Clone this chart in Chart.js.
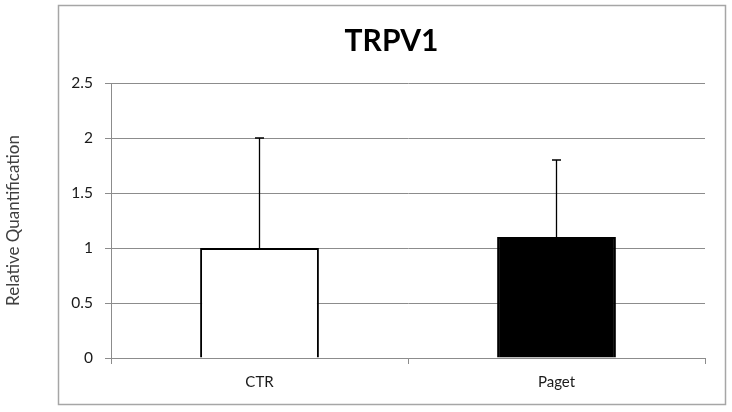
<!DOCTYPE html>
<html>
<head>
<meta charset="utf-8">
<script src="https://cdn.jsdelivr.net/npm/chart.js@4.4.1/dist/chart.umd.min.js"></script>
<style>
  html, body { margin: 0; padding: 0; background: #fff; }
  #wrap { width: 732px; height: 412px; position: relative; }
</style>
</head>
<body>
<div id="wrap"><canvas id="c" width="732" height="412"></canvas></div>
<script>
const categories = ["CTR", "Paget"];
const values = [1.0, 1.1];
const errors = [1.0, 0.7];
const yTicks = [0, 0.5, 1, 1.5, 2, 2.5];
const titleText = "TRPV1";
const yTitle = "Relative Quantification";

const gridColor = "#8c8c8c";
const FONT = "Lato, 'Open Sans', sans-serif";

const boxPlugin = {
  id: 'box',
  beforeDraw(chart) {
    const ctx = chart.ctx;
    ctx.save();
    ctx.fillStyle = '#fff';
    ctx.fillRect(0, 0, chart.width, chart.height);
    ctx.strokeStyle = '#a6a6a6';
    ctx.lineWidth = 1.5;
    ctx.strokeRect(58.5, 5.5, 667, 399);
    ctx.restore();
  }
};

const titleShift = {
  id: 'titleShift',
  afterLayout(chart) {
    const tb = chart.titleBlock;
    if (tb) { tb.left = 58; tb.right = 725; }
  }
};

const errorBars = {
  id: 'errorBars',
  afterDatasetsDraw(chart) {
    const ctx = chart.ctx;
    const meta = chart.getDatasetMeta(0);
    const y = chart.scales.y;
    ctx.save();
    ctx.strokeStyle = '#000';
    ctx.lineWidth = 1.3;
    meta.data.forEach((bar, i) => {
      const x = bar.x;
      const yTop = y.getPixelForValue(values[i] + errors[i]);
      const yBase = y.getPixelForValue(values[i]);
      ctx.beginPath();
      ctx.moveTo(x, yBase);
      ctx.lineTo(x, yTop);
      ctx.moveTo(x - 4.5, yTop);
      ctx.lineTo(x + 4.5, yTop);
      ctx.stroke();
    });
    ctx.restore();
  }
};

new Chart(document.getElementById('c'), {
  type: 'bar',
  data: {
    labels: categories,
    datasets: [{
      data: values,
      backgroundColor: ['#ffffff', '#000000'],
      borderColor: '#000000',
      borderWidth: 2,
      borderSkipped: 'start',
      barPercentage: 0.4,
      categoryPercentage: 1.0
    }]
  },
  options: {
    responsive: false,
    animation: false,
    devicePixelRatio: 1,
    layout: { padding: { left: 0, right: 27, top: 0, bottom: 0 } },
    plugins: {
      legend: { display: false },
      tooltip: { enabled: false },
      title: {
        display: true,
        text: titleText,
        color: '#000',
        font: { family: FONT, size: 30, weight: 'bold', lineHeight: 1.2 },
        padding: { top: 23, bottom: 24 }
      }
    },
    scales: {
      x: {
        grid: { display: true, drawOnChartArea: false, drawTicks: true, tickLength: 6, color: gridColor, offset: true },
        border: { display: true, color: gridColor, width: 1 },
        ticks: { color: '#1a1a1a', font: { family: FONT, size: 15 }, padding: 9 },
        afterFit(scale) { scale.height = 54; }
      },
      y: {
        min: 0,
        max: 2.5,
        afterBuildTicks(scale) { scale.ticks = yTicks.map(v => ({ value: v })); },
        grid: { color: gridColor, tickLength: 6, drawTicks: true },
        border: { display: true, color: gridColor, width: 1 },
        ticks: {
          color: '#1a1a1a',
          font: { family: FONT, size: 15.5 },
          padding: 12,
          callback: (v) => String(v)
        },
        title: {
          display: true,
          text: yTitle,
          color: '#404040',
          font: { family: FONT, size: 17 },
          padding: { top: 3, bottom: 0 }
        },
        afterFit(scale) { scale.width = 111; }
      }
    }
  },
  plugins: [boxPlugin, titleShift, errorBars]
});
</script>
</body>
</html>
